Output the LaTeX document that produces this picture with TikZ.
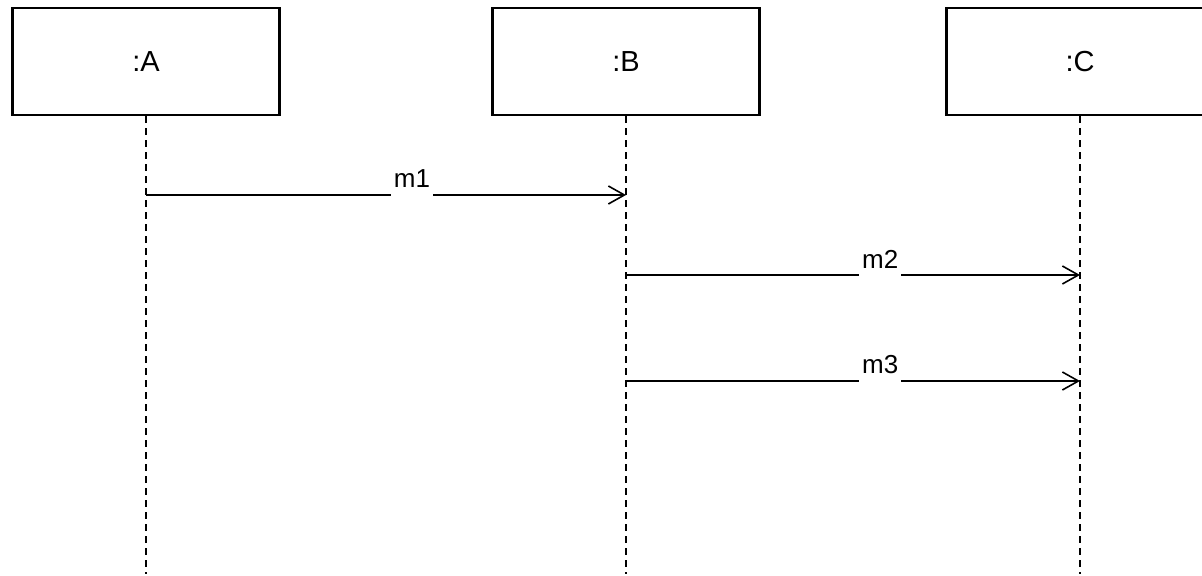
\documentclass[tikz,border=0pt]{standalone}
\usepackage{fontspec}
\setmainfont{Liberation Sans}
\usetikzlibrary{arrows.meta}
\begin{document}
\begin{tikzpicture}
		[x=0.5pt,y=-0.5pt,font=\fontsize{13}{15}\selectfont,
		obj/.style={draw,line width=1.1pt,minimum width=133.5pt,minimum height=53.5pt,inner sep=0pt,font=\fontsize{14.5}{17}\selectfont},
		life/.style={line width=0.8pt,dash pattern=on 3.5pt off 2.5pt},
		msg/.style={-{Straight Barb[length=8pt,width=9pt]},line width=0.8pt},
		lbl/.style={fill=white,inner xsep=1.5pt,minimum height=18pt,yshift=8pt}]
		\useasboundingbox (0,0) rectangle (1202,576);
		\node[obj] (A) at (146,61.5) {:A};
		\node[obj] (B) at (626,61.5) {:B};
		\node[obj] (C) at (1080,61.5) {:C};
		% lifelines
		\coordinate (Aend) at (146,574);
		\coordinate (Bend) at (626,574);
		\coordinate (Cend) at (1080,574);
		\draw[life] (A.south) -- (Aend);
		\draw[life] (B.south) -- (Bend);
		\draw[life] (C.south) -- (Cend);
		% messages
		\coordinate (a1) at (146,195);
		\coordinate (b1) at (626,195);
		\coordinate (b2) at (626,275);
		\coordinate (c2) at (1080,275);
		\coordinate (b3) at (626,381);
		\coordinate (c3) at (1080,381);
		\draw[msg] (a1) -- node[lbl,pos=0.554] {m1} (b1);
		\draw[msg] (b2) -- node[lbl,pos=0.56] {m2} (c2);
		\draw[msg] (b3) -- node[lbl,pos=0.56] {m3} (c3);
\end{tikzpicture}
\end{document}
